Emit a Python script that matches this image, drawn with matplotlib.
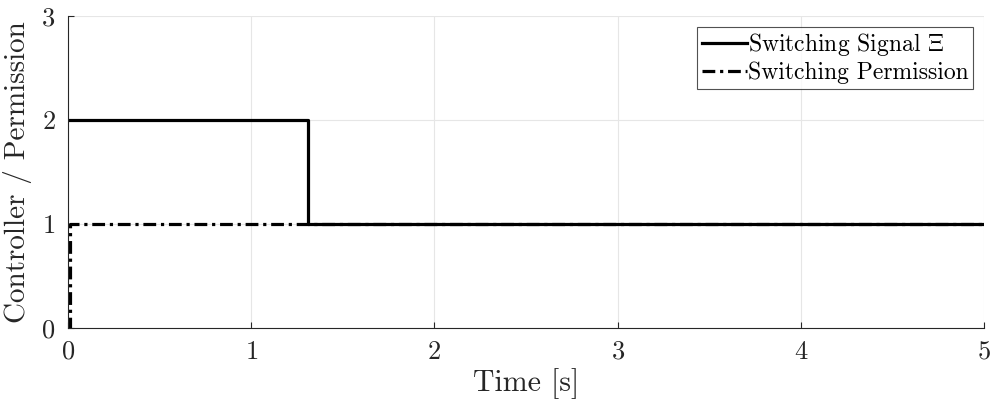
import matplotlib
matplotlib.use("Agg")
import matplotlib.pyplot as plt

# switching signal (controller index) and switching permission, step data
signal_t = [0.0, 1.31, 5.0]
signal_v = [2, 1, 1]
perm_t = [0.0, 0.012, 5.0]
perm_v = [0, 1, 1]

xticks = [0, 1, 2, 3, 4, 5]
yticks = [0, 1, 2, 3]

plt.rcParams["font.family"] = ["cmr10"]
plt.rcParams["mathtext.fontset"] = "cm"
plt.rcParams["axes.unicode_minus"] = False
plt.rcParams["axes.formatter.use_mathtext"] = True

fig = plt.figure(figsize=(9.97, 4.09), dpi=100)
ax = fig.add_axes([68 / 997, 1 - 328 / 409, 916 / 997, 312 / 409])

ax.step(signal_t, signal_v, where="post", color="black", lw=2.3,
        label=r"Switching Signal $\Xi$")
ax.step(perm_t, perm_v, where="post", color="black", lw=2.3,
        linestyle=(0, (4, 1.5, 1, 1.5)), label="Switching Permission")

ax.set_xlim(0, 5)
ax.set_ylim(0, 3)
ax.set_xticks(xticks)
ax.set_yticks(yticks)
ax.grid(True, color="#e6e6e6", lw=0.8)
ax.set_axisbelow(True)
for side in ("top", "right"):
    ax.spines[side].set_visible(False)
for side in ("left", "bottom"):
    ax.spines[side].set_color("#262626")
    ax.spines[side].set_linewidth(0.8)
ax.tick_params(direction="in", length=4, width=0.8, color="#262626",
               labelsize=19, labelcolor="#262626")
ax.tick_params(axis="x", pad=8.5)
ax.tick_params(axis="y", pad=9)
ax.set_xlabel("Time [s]", fontsize=21.5, labelpad=3, color="#262626")
ax.set_ylabel("Controller / Permission", fontsize=21, labelpad=6.5,
              color="#262626")

leg = ax.legend(loc="upper right", fontsize=17, frameon=True, fancybox=False,
                handlelength=1.9, handletextpad=0.05, borderpad=0.2,
                labelspacing=0.15, borderaxespad=0.45)
leg.get_frame().set_edgecolor("#262626")
leg.get_frame().set_linewidth(0.8)

fig.savefig("out.png", dpi=100)
